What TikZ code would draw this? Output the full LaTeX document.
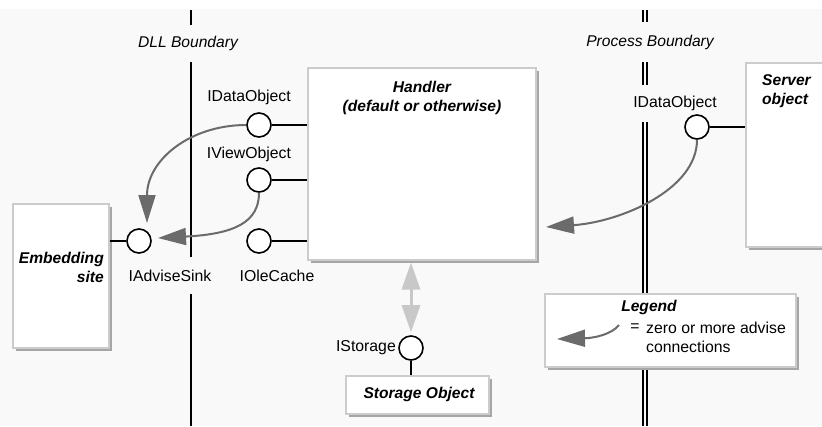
\documentclass[tikz,border=0pt]{standalone}
\usepackage{fontspec}
\setmainfont{Liberation Sans}
\usetikzlibrary{arrows.meta,shadows}

\definecolor{pagebg}{HTML}{F9F9F9}
\definecolor{boxline}{HTML}{CCCCCC}
\definecolor{boxshadow}{HTML}{A6A6A6}
\definecolor{advise}{HTML}{6B6B6B}
\definecolor{storelink}{HTML}{C8C8C8}

\begin{document}
\begin{tikzpicture}[x=1pt,y=-1pt,
  every node/.style={font=\fontsize{15.8}{19}\selectfont, inner sep=0pt},
  objbox/.style={rectangle, draw=boxline, line width=1.5pt, fill=white, anchor=north west,
    drop shadow={shadow xshift=3pt, shadow yshift=-3pt, fill=boxshadow, opacity=1}},
  objtitle/.style={font=\fontsize{15.6}{19}\selectfont\bfseries\itshape},
  boundlabel/.style={font=\fontsize{15.6}{19}\selectfont\itshape},
  lolly/.style={circle, draw=black, line width=1.6pt, fill=white, minimum size=24pt},
  stem/.style={draw=black, line width=1.5pt},
  boundary/.style={draw=black, line width=2pt},
  procline/.style={draw=black, line width=1.3pt},
  adviselink/.style={draw=advise, line width=2pt, -{Triangle[length=28pt, width=17pt]}},
  storagelink/.style={draw=storelink, line width=3pt,
    {Triangle[length=27pt, width=18pt]}-{Triangle[length=27pt, width=18pt]}}
]
% page
\useasboundingbox (0,0) rectangle (822,426);
\fill[white] (0,0) rectangle (822,426);
\fill[pagebg] (0,9) rectangle (822,426);

% DLL boundary
\draw[boundary] (191,10) -- (191,25);
\draw[boundary] (191,62) -- (191,257);
\draw[boundary] (191,294) -- (191,426);
\node[boundlabel] (dlllabel) at (188,43) {DLL Boundary};

% process boundary (double rule)
\foreach \xx in {643,647}{
  \draw[procline] (\xx,10) -- (\xx,22);
  \draw[procline] (\xx,62) -- (\xx,85);
  \draw[procline] (\xx,122) -- (\xx,426);
}
\node[boundlabel] (proclabel) at (650,42) {Process Boundary};

% objects
\node[objbox, minimum width=96pt, minimum height=144pt] (emb) at (12,203) {};
\node[objtitle, align=right, anchor=east] (embtext) at (104,267.5) {Embedding\\site};

\node[objbox, minimum width=228pt, minimum height=192pt] (hand) at (307,67) {};
\node[objtitle, align=center] (handtext) at (422,98) {Handler\\(default or otherwise)};

\node[objbox, minimum width=100pt, minimum height=184pt] (srv) at (745,62) {};
\node[objtitle, align=left, anchor=west] (srvtext) at (762,91) {Server\\object};

\node[objbox, minimum width=143pt, minimum height=38pt] (stor) at (345,375) {};
\node[objtitle] (stortext) at (419,394) {Storage Object};

% interfaces
\node[lolly] (hido) at (259,125) {};
\node[lolly] (hivo) at (259,180) {};
\node[lolly] (hioc) at (259,241) {};
\node[lolly] (eias) at (139,241) {};
\node[lolly] (sido) at (697,127) {};
\node[lolly] (sist) at (411,348) {};

\draw[stem] (hido.east) -- (hido.east -| hand.west);
\draw[stem] (hivo.east) -- (hivo.east -| hand.west);
\draw[stem] (hioc.east) -- (hioc.east -| hand.west);
\draw[stem] (eias.west -| emb.east) -- (eias.west);
\draw[stem] (sido.east) -- (sido.east -| srv.west);
\draw[stem] (sist.south) -- (sist.south |- stor.north);

\node (lido) at (249,97) {IDataObject};
\node (livo) at (249,154) {IViewObject};
\node (lioc) at (277,276) {IOleCache};
\node (lias) at (170,276) {IAdviseSink};
\node (lsido) at (675,103) {IDataObject};
\node[anchor=east] (list) at (396,348) {IStorage};

% advise connections
\draw[adviselink] (hido.west) .. controls (190,125) and (147,160) .. (147,223);
\draw[adviselink] (hivo.south) .. controls (259,222) and (235,234) .. (158,238);
\draw[adviselink] (sido.south) .. controls (697,190) and (620,222) .. (546,227);

% handler to storage
\draw[storagelink] ([yshift=-2pt]hand.south -| sist) -- ([yshift=3pt]sist.north);

% legend
\node[objbox, minimum width=251pt, minimum height=73pt] (legend) at (544,293) {};
\node[objtitle] (legtitle) at (649,307) {Legend};
\coordinate (legfrom) at (619,325);
\coordinate (legto) at (557,339);
\draw[adviselink] (legfrom) .. controls (612,334) and (595,338) .. (legto);
\node (legeq) at (635,328) {=};
\node[align=left, anchor=west] (legtext) at (646,337.5) {zero or more advise\\connections};
\end{tikzpicture}
\end{document}
